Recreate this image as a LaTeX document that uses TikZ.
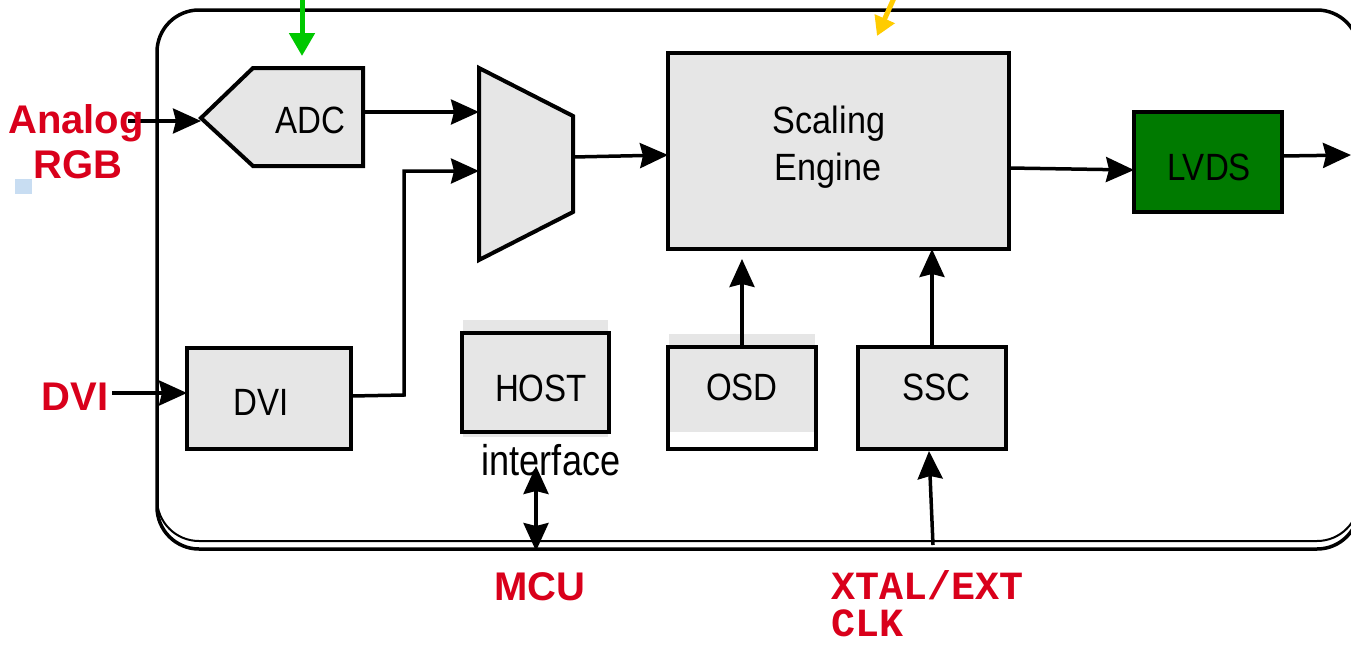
\documentclass[tikz,border=0pt]{standalone}
\usepackage{fontspec}
\setmainfont{Liberation Sans}
\newfontfamily\monob{Liberation Mono}
\usetikzlibrary{arrows.meta}
\definecolor{boxgray}{HTML}{E6E6E6}
\definecolor{labred}{HTML}{D9001B}
\definecolor{lvdsgreen}{HTML}{007A00}
\definecolor{arrgreen}{HTML}{00C800}
\definecolor{arryellow}{HTML}{FFCC00}
\definecolor{dotblue}{HTML}{C8DDF2}
\newcommand{\narrowtxt}[2][0.87]{\scalebox{#1}[1]{#2}}
\begin{document}
\begin{tikzpicture}[x=1pt,y=-1pt,
  blk/.style={draw,line width=4pt,rectangle,inner sep=0pt,outer sep=0pt,anchor=north west},
  gblk/.style={blk,fill=boxgray},
  lbl/.style={font=\fontsize{38}{46}\selectfont,anchor=base,inner sep=0pt},
  redlbl/.style={font=\fontsize{40}{46}\selectfont\bfseries,text=labred,anchor=base,inner sep=0pt},
  monolbl/.style={font=\fontsize{40}{46}\selectfont\monob\bfseries,text=labred,anchor=base west,inner sep=0pt},
  tipA/.tip={Stealth[length=28pt,width=25pt,inset=3pt]},
  conn/.style={line width=3.5pt,-tipA},
  bconn/.style={line width=3.5pt,tipA-tipA}]
\useasboundingbox (0,0) rectangle (1351,645);
\clip (0,0) rectangle (1351,645);
\fill[white] (0,0) rectangle (1351,645);
% stray blue mark
\fill[dotblue] (15,179) rectangle (32,194);
% outer frame (double at bottom)
\draw[line width=2pt,rounded corners=42pt] (157,10) rectangle (1359,541);
\draw[line width=3.5pt,rounded corners=42pt] (157,10) rectangle (1359,549);
% gray backgrounds behind HOST and OSD
\fill[boxgray] (463,320) rectangle (608,437);
\fill[boxgray] (669,334) rectangle (815,432);
% ADC pentagon
\draw[line width=4pt,fill=boxgray] (201,118) -- (253,68) -- (363,68) -- (363,166) -- (253,166) -- cycle;
\coordinate (adcW) at (201,121);
\coordinate (adcE) at (363,112);
% MUX trapezoid
\draw[line width=4pt,fill=boxgray] (479,68) -- (573,116) -- (573,212) -- (479,260) -- cycle;
\coordinate (muxA) at (479,112);
\coordinate (muxB) at (479,171);
\coordinate (muxO) at (573,157);
% blocks
\node[gblk,minimum width=341pt,minimum height=196pt] (scale) at (668,53) {};
\node[blk,fill=lvdsgreen,minimum width=148pt,minimum height=100pt] (lvds) at (1134,112) {};
\node[gblk,minimum width=164pt,minimum height=101pt] (dvibox) at (187,348) {};
\node[blk,minimum width=147pt,minimum height=99pt] (hostbox) at (462,333) {};
\node[blk,minimum width=148pt,minimum height=102pt] (osdbox) at (668,347) {};
\node[gblk,minimum width=148pt,minimum height=102pt] (sscbox) at (858,347) {};
% coordinates for connector ends
\coordinate (ain) at (128,121);
\coordinate (dviin) at (112,393);
\coordinate (dviOut) at (351,396);
\coordinate (bendA) at (404,395);
\coordinate (bendB) at (404,171);
\coordinate (scaleIn) at (668,155);
\coordinate (scaleOut) at (1009,168);
\coordinate (lvdsIn) at (1134,170);
\coordinate (lvdsOut) at (1282,156);
\coordinate (outEnd) at (1351,155);
\coordinate (osdTip) at (742,259);
\coordinate (mcuBot) at (536,551);
\coordinate (ifTop) at (536,466);
\coordinate (clkBot) at (933,545);
\coordinate (sscBot) at (929,451);
\coordinate (gTop) at (302,-2);
\coordinate (gTip) at (302,56);
\coordinate (yTop) at (894,-2);
\coordinate (yTip) at (877,36);
% connectors
\draw[conn] (ain) -- (adcW);
\draw[conn] (adcE) -- (muxA);
\draw[conn] (dviin) -- (dvibox.west |- dviin);
\draw[conn] (dviOut) -- (bendA) -- (bendB) -- (muxB);
\draw[conn] (muxO) -- (scaleIn);
\draw[conn] (scaleOut) -- (lvdsIn);
\draw[conn] (lvdsOut) -- (outEnd);
\draw[conn] (osdbox.north) -- (osdTip);
\draw[conn] (sscbox.north) -- (sscbox.north |- scale.south);
\draw[conn] (clkBot) -- (sscBot);
\draw[bconn] (mcuBot) -- (ifTop);
\draw[line width=5pt,draw=arrgreen,-{Triangle[length=23pt,width=25pt]},arrgreen] (gTop) -- (gTip);
\draw[line width=5pt,draw=arryellow,-{Triangle[length=19pt,width=21pt]},arryellow] (yTop) -- (yTip);
% block texts
\node[lbl] (adct) at (310,133) {\narrowtxt{ADC}};
\node[lbl] (scalet1) at (829,133) {\narrowtxt[0.9]{Scaling}};
\node[lbl] (scalet2) at (828,180) {\narrowtxt[0.9]{Engine}};
\node[lbl] (lvdst) at (1209,180) {\narrowtxt{LVDS}};
\node[lbl] (dvit) at (261,415) {\narrowtxt{DVI}};
\node[lbl] (hostt) at (541,401) {\narrowtxt{HOST}};
\node[lbl,font=\fontsize{43}{46}\selectfont] (ift) at (551,475) {\narrowtxt[0.84]{interface}};
\node[lbl] (osdt) at (742,400) {\narrowtxt{OSD}};
\node[lbl] (ssct) at (936,400) {\narrowtxt{SSC}};
% red labels
\node[redlbl] (analog) at (76,133) {Analog};
\node[redlbl] (rgb) at (78,178) {RGB};
\node[redlbl] (dvil) at (75,410) {DVI};
\node[redlbl] (mcul) at (540,600) {MCU};
\node[monolbl] (xtal) at (831,599) {XTAL/EXT};
\node[monolbl] (clk) at (831,636) {CLK};
\end{tikzpicture}
\end{document}
